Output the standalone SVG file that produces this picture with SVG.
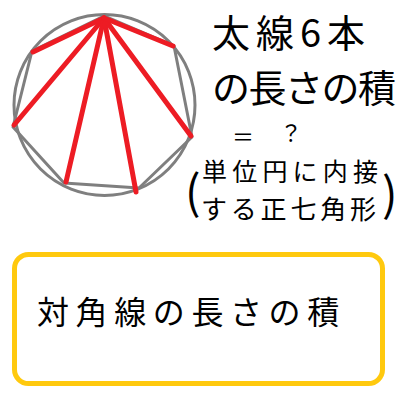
<svg xmlns="http://www.w3.org/2000/svg" width="400" height="400" viewBox="0 0 400 400">
<style>
.gray{fill:none;stroke:#7f7f7f;stroke-width:3;stroke-linejoin:round}
.red{stroke:#ed1c24;stroke-width:5;stroke-linecap:round}
.hand{font-family:"Noto Sans CJK JP","Noto Sans",sans-serif;fill:#000}
.label{font-family:"Noto Sans CJK JP","Noto Sans",sans-serif;fill:#000;font-size:32px;letter-spacing:6.6px}
</style>
<rect width="400" height="400" fill="#fff"/>
<g id="heptagon">
<circle class="gray" cx="104.5" cy="105" r="90.5"/>
<polygon class="gray" points="104,16 32,51 13,127 64,183 139,188 192,137 174,46"/>
</g>
<g id="connectors">
<line class="red" x1="104" y1="18" x2="33" y2="52"/>
<line class="red" x1="104" y1="18" x2="14" y2="125"/>
<line class="red" x1="104" y1="18" x2="66" y2="182"/>
<line class="red" x1="104" y1="18" x2="136" y2="192"/>
<line class="red" x1="104" y1="18" x2="191" y2="136"/>
<line class="red" x1="104" y1="18" x2="173" y2="46"/>
</g>
<g id="question">
<text class="hand" x="232" y="145" font-size="22">＝</text>
<text class="hand" x="212" y="47" font-size="38" letter-spacing="6">太線6本</text>
<text class="hand" x="212" y="102" font-size="38" letter-spacing="-1.5">の長さの積</text>
<text class="hand" x="280" y="141" font-size="22">？</text>
<text class="hand" x="185" y="209" font-size="46">(</text>
<text class="hand" x="202" y="181" font-size="25" letter-spacing="5.2">単位円に内接</text>
<text class="hand" x="201" y="219" font-size="26" letter-spacing="3.8">する正七角形</text>
<text class="hand" x="382" y="211" font-size="46">)</text>
</g>
<g id="box">
<rect x="14.5" y="254.5" width="368" height="129" rx="14" fill="none" stroke="#ffc90e" stroke-width="5"/>
<text class="label" x="37" y="324">対角線の長さの積</text>
</g>
</svg>
